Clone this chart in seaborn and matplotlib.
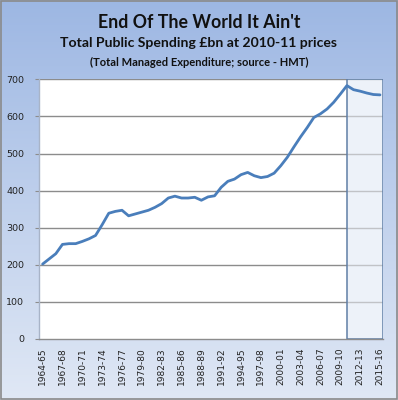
import numpy as np
import pandas as pd
import matplotlib
matplotlib.use("Agg")
import matplotlib.pyplot as plt
from matplotlib.patches import Rectangle
import seaborn as sns

years = ["1964-65", "1965-66", "1966-67", "1967-68", "1968-69", "1969-70", "1970-71",
         "1971-72", "1972-73", "1973-74", "1974-75", "1975-76", "1976-77", "1977-78",
         "1978-79", "1979-80", "1980-81", "1981-82", "1982-83", "1983-84", "1984-85",
         "1985-86", "1986-87", "1987-88", "1988-89", "1989-90", "1990-91", "1991-92",
         "1992-93", "1993-94", "1994-95", "1995-96", "1996-97", "1997-98", "1998-99",
         "1999-00", "2000-01", "2001-02", "2002-03", "2003-04", "2004-05", "2005-06",
         "2006-07", "2007-08", "2008-09", "2009-10", "2010-11", "2011-12", "2012-13",
         "2013-14", "2014-15", "2015-16"]
spending = [202, 216, 230, 255, 257, 257, 263, 270, 279, 308, 339, 344, 347, 332,
            337, 342, 347, 355, 365, 380, 385, 380, 380, 382, 374, 383, 386, 409,
            425, 431, 443, 449, 440, 435, 438, 447, 467, 490, 518, 545, 570, 597,
            607, 620, 638, 660, 683, 672, 668, 663, 659, 658]
shade_start = "2010-11"
yticks = [0, 100, 200, 300, 400, 500, 600, 700]
title = "End Of The World It Ain't"
subtitle = "Total Public Spending £bn at 2010-11 prices"
subsub = "(Total Managed Expenditure; source - HMT)"

df = pd.DataFrame({"year": years, "value": spending})
df["pos"] = np.arange(len(df))

sns.set_style("white")
plt.rcParams["font.family"] = ["DejaVu Sans"]

fig = plt.figure(figsize=(3.98, 4.00), dpi=100)

# gradient background
bg = fig.add_axes([0, 0, 1, 1], zorder=-10)
grad = np.linspace(0, 1, 256).reshape(-1, 1)
top = np.array([0x9d, 0xb7, 0xe3]) / 255
bot = np.array([0xe0, 0xe8, 0xf5]) / 255
img = top[None, None, :] * (1 - grad[:, :, None]) + bot[None, None, :] * grad[:, :, None]
bg.imshow(img, aspect="auto", extent=[0, 1, 0, 1], origin="upper")
bg.set_axis_off()
fig.patches.append(Rectangle((0.002, 0.002), 0.996, 0.996, transform=fig.transFigure,
                             fill=False, edgecolor="#8a8a8a", lw=1.2))

ax = fig.add_axes([39.3 / 398, 61 / 400, 344 / 398, 259.7 / 400])
ax.set_facecolor("white")

n = len(years)
i0 = years.index(shade_start)
ax.add_patch(Rectangle((i0, 0), n - 0.5 - i0, yticks[-1], facecolor="#edf2f9",
                       edgecolor="none", zorder=0.3))
for y in yticks[1:]:
    ax.axhline(y, color="#8c8c8c", lw=1.0, zorder=0.5)
ax.add_patch(Rectangle((i0, 0), n - 0.5 - i0, yticks[-1], facecolor="#edf2f9",
                       edgecolor="none", alpha=0.55, zorder=0.6))
ax.add_patch(Rectangle((i0, 0), n - 0.5 - i0, yticks[-1], fill=False,
                       edgecolor="#5f7ea6", lw=1.1, zorder=2))

sns.lineplot(data=df, x="pos", y="value", ax=ax, color="#4a7ebb", lw=2.0, zorder=3)

ax.set_xlim(-0.5, n - 0.5)
ax.set_ylim(0, 700)
ax.set_yticks(yticks)
ax.set_yticklabels([str(v) for v in yticks], fontsize=6.8, color="#222222")
xt = list(range(0, n, 3))
ax.set_xticks(xt)
ax.set_xticklabels([years[i] for i in xt], rotation=90, fontsize=6.5, color="#222222")
ax.tick_params(axis="y", length=3, width=0.8, color="#8c8c8c", pad=8, left=True)
ax.tick_params(axis="x", length=0, pad=6)
ax.set_xlabel("")
ax.set_ylabel("")
for s in ["top", "right"]:
    ax.spines[s].set_visible(False)
ax.spines["left"].set_color("#a8b4c8")
ax.spines["left"].set_linewidth(1.0)
ax.spines["bottom"].set_color("#8c8c8c")
ax.spines["bottom"].set_linewidth(1.0)

fig.text(0.5, 1 - 22 / 400, title, ha="center", va="center", fontsize=12.8,
         fontweight="bold", family=["Lato", "DejaVu Sans"], color="#111111")
fig.text(0.5, 1 - 43 / 400, subtitle, ha="center", va="center", fontsize=10.1,
         fontweight="bold", family=["Lato", "DejaVu Sans"], color="#111111")
fig.text(0.5, 1 - 62 / 400, subsub, ha="center", va="center", fontsize=8,
         fontweight="bold", family=["Lato", "DejaVu Sans"], color="#111111")

fig.savefig("out.png", dpi=100)
